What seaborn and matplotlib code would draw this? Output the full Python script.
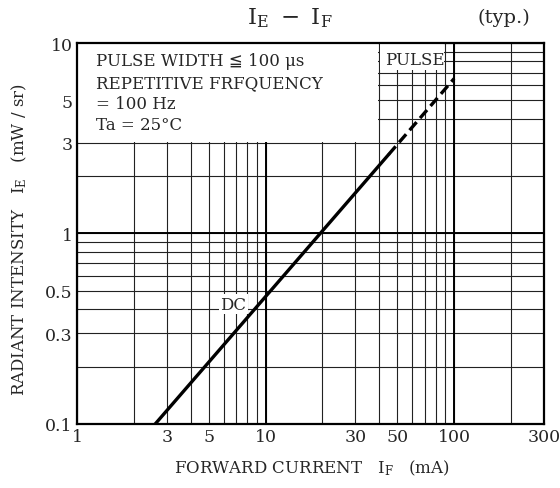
import numpy as np
import pandas as pd
import matplotlib
matplotlib.use("Agg")
import matplotlib.pyplot as plt
import seaborn as sns
from matplotlib.patches import Rectangle

# curve values (IF in mA, IE in mW/sr)
dc_if = [2.6, 45]
dc_ie = [0.1, 2.6]
pulse_if = [45, 100]
pulse_ie = [2.6, 6.5]

x_ticks = [1, 3, 5, 10, 30, 50, 100, 300]
x_labels = ["1", "3", "5", "10", "30", "50", "100", "300"]
y_ticks = [0.1, 0.3, 0.5, 1, 3, 5, 10]
y_labels = ["0.1", "0.3", "0.5", "1", "3", "5", "10"]
x_minor = [2, 4, 6, 7, 8, 9, 20, 40, 60, 70, 80, 90, 200]
y_minor = [0.2, 0.4, 0.6, 0.7, 0.8, 0.9, 2, 4, 6, 7, 8, 9]

notes = ["PULSE WIDTH \u2266 100 \u03bcs", "REPETITIVE FRFQUENCY", "= 100 Hz", "Ta = 25\u00b0C"]

sns.set_style("white")
plt.rcParams['font.family'] = ['DejaVu Serif', 'DejaVu Sans']
plt.rcParams['mathtext.fontset'] = 'dejavuserif'

fig = plt.figure(figsize=(5.6, 4.89), dpi=100)
ax = fig.add_axes([0.1375, 0.131, 0.834, 0.779])

dc = pd.DataFrame({"IF": dc_if, "IE": dc_ie})
pulse = pd.DataFrame({"IF": pulse_if, "IE": pulse_ie})
sns.lineplot(data=dc, x="IF", y="IE", color="black", lw=2.4, ax=ax, zorder=3)
sns.lineplot(data=pulse, x="IF", y="IE", color="black", lw=2.4, ax=ax, zorder=3,
             linestyle=(0, (3.2, 1.6)))

ax.set_xscale("log")
ax.set_yscale("log")
ax.set_xlim(1, 300)
ax.set_ylim(0.1, 10)
ax.set_xticks(x_ticks)
ax.set_xticklabels(x_labels)
ax.set_xticks(x_minor, minor=True)
ax.set_yticks(y_ticks)
ax.set_yticklabels(y_labels)
ax.set_yticks(y_minor, minor=True)
ax.set_xticklabels([], minor=True)
ax.set_yticklabels([], minor=True)
ax.tick_params(which="both", length=0, labelsize=12.5, pad=3)

ax.set_axisbelow(True)
ax.grid(which="both", color="#222222", lw=0.8)
for v in [10, 100]:
    ax.axvline(v, color="black", lw=1.4, zorder=0.6)
ax.axhline(1, color="black", lw=1.4, zorder=0.6)

for s in ax.spines.values():
    s.set_linewidth(1.6)
    s.set_color("black")

# white areas hiding the grid behind the notes
ax.add_patch(Rectangle((1.0, 3.03), 38.6, 7.0, facecolor="white", edgecolor="none", zorder=1))
ax.add_patch(Rectangle((40.6, 7.2), 47.5, 2.8, facecolor="white", edgecolor="none", zorder=1))

y_pos = [0.955, 0.895, 0.84, 0.785]
for t, yy in zip(notes, y_pos):
    ax.text(0.04, yy, t, transform=ax.transAxes, fontsize=12, va="center", ha="left", zorder=4)

ax.text(62, 8.2, "PULSE", fontsize=12, ha="center", va="center", zorder=4)
ax.text(6.75, 0.425, "DC", fontsize=12, ha="center", va="center", zorder=4,
        bbox=dict(facecolor="white", edgecolor="none", pad=1.0))

ax.set_xlabel("")
ax.set_ylabel("")
fig.text(0.518, 0.963, r"$\mathrm{I_E}\ -\ \mathrm{I_F}$", fontsize=16.5, ha="center", va="center")
fig.text(0.90, 0.963, "(typ.)", fontsize=14, ha="center", va="center")
fig.text(0.557, 0.043, r"FORWARD CURRENT   $\mathrm{I_F}$   (mA)", fontsize=12, ha="center", va="center")
fig.text(0.034, 0.51, r"RADIANT INTENSITY   $\mathrm{I_E}$   (mW / sr)", fontsize=12,
         ha="center", va="center", rotation=90)

fig.savefig("out.png", dpi=100)
